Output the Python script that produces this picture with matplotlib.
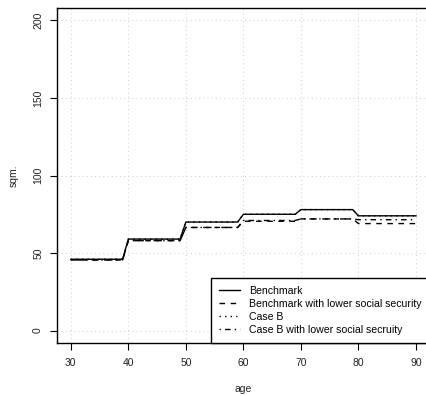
import matplotlib
matplotlib.use("Agg")
import matplotlib.pyplot as plt
import numpy as np

plt.rcParams['font.family'] = ['Liberation Sans', 'DejaVu Sans']

ages = list(range(30, 91))

# housing size (sqm.) by age, one value per year
benchmark = [46]*10 + [59]*10 + [70]*10 + [75]*10 + [78]*10 + [74]*11
bench_low_ss = [45.5]*10 + [58]*10 + [66.5]*10 + [70.5]*10 + [72]*10 + [69]*11
case_b = [46]*10 + [59]*10 + [70]*10 + [75]*10 + [78]*10 + [74]*11
case_b_low_ss = [45.5]*10 + [58]*10 + [66.5]*10 + [71]*10 + [72]*10 + [71.5]*11

labels = ["Benchmark", "Benchmark with lower social security",
          "Case B", "Case B with lower social secruity"]
xticks = [30, 40, 50, 60, 70, 80, 90]
yticks = [0, 50, 100, 150, 200]

W, H = 426, 396
fig = plt.figure(figsize=(W/100, H/100), dpi=100)
ax = fig.add_axes([57/W, 1-343/H, (429.8-57)/W, (343-8)/H])

lw = 1.0
ax.plot(ages, benchmark, color='black', lw=lw, ls='-', label=labels[0])
ax.plot(ages, bench_low_ss, color='black', lw=lw, ls=(0, (4, 4)), label=labels[1])
ax.plot(ages, case_b, color='black', lw=lw, ls=(0, (1, 3)), label=labels[2])
ax.plot(ages, case_b_low_ss, color='black', lw=lw, ls=(0, (1, 3, 4, 3)), label=labels[3])

ax.set_xlim(27.6, 92.4)
ax.set_ylim(-8, 208)
ax.set_xticks(xticks)
ax.set_yticks(yticks)
ax.set_yticklabels([str(v) for v in yticks], rotation=90, va='center')

for x in xticks:
    ax.axvline(x, color='#D3D3D3', lw=0.75, ls=(0, (1, 3)), zorder=0)
for y in yticks:
    ax.axhline(y, color='#D3D3D3', lw=0.75, ls=(0, (1, 3)), zorder=0)

for s in ax.spines.values():
    s.set_linewidth(1.0)
ax.tick_params(length=5, width=0.8, labelsize=7.5, colors='black')
ax.tick_params(axis='x', pad=5.5)
ax.tick_params(axis='y', pad=5)
for lab in ax.get_xticklabels() + ax.get_yticklabels():
    lab.set_color('#222222')

# axis titles in fixed positions
fig.text(243/W, 1-392/H, "age", fontsize=7.5, ha='center', va='baseline', color='#222222')
fig.text(13.5/W, 1-175.5/H, "sqm.", fontsize=7.5, ha='center', va='center',
         rotation=90, color='#222222')

leg = ax.legend(loc='lower right', bbox_to_anchor=(1, 0), borderaxespad=0,
                fontsize=7.6, frameon=True, fancybox=False, handlelength=2.0,
                handletextpad=0.9, labelspacing=0.3, borderpad=0.75)
leg.get_frame().set_edgecolor('black')
leg.get_frame().set_linewidth(1.0)
leg.get_frame().set_alpha(1)

fig.savefig("out.png", dpi=100)
